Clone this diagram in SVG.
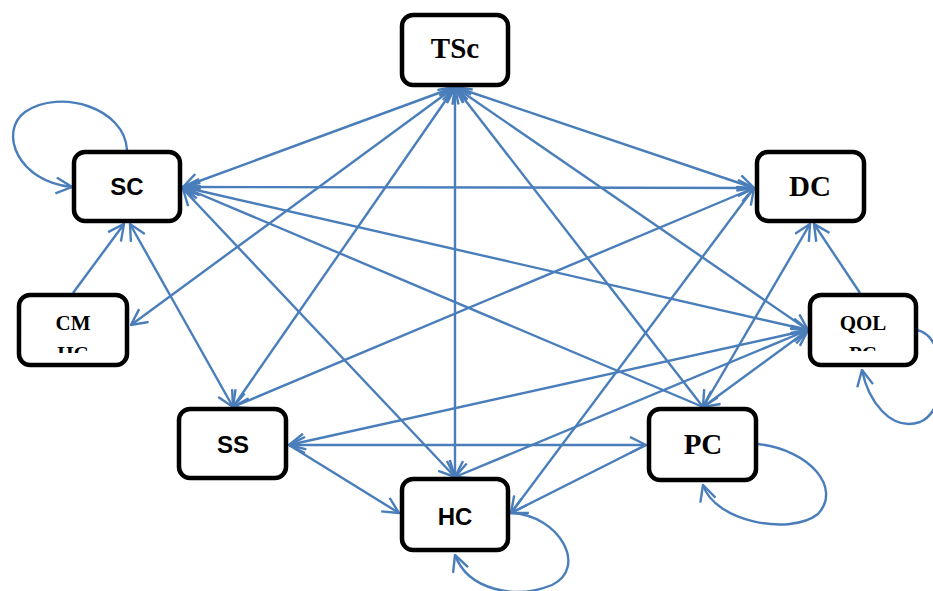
<svg xmlns="http://www.w3.org/2000/svg" width="933" height="591" viewBox="0 0 933 591">
<style>
.n rect{fill:#fff;stroke:#000;stroke-width:4.5}
.e line,.e path{stroke:#4A7EBB;stroke-width:2.4;fill:none}
.b{marker-start:url(#a);marker-end:url(#a)}
.f{marker-end:url(#a)}
.sr{font-family:"Liberation Serif","Times New Roman",serif;font-weight:bold;text-anchor:middle;fill:#000}
.ss{font-family:"Liberation Sans",Arial,sans-serif;font-weight:bold;text-anchor:middle;fill:#000}
</style>
<defs>
<marker id="a" viewBox="0 0 18 18" refX="17" refY="9" markerWidth="18" markerHeight="18" markerUnits="userSpaceOnUse" orient="auto-start-reverse">
<path d="M1,1 L17,9 L1,17" fill="none" stroke="#4A7EBB" stroke-width="2.4"/>
</marker>
<clipPath id="cm"><rect x="19" y="295" width="108" height="58"/></clipPath>
<clipPath id="qo"><rect x="810" y="295" width="106" height="56"/></clipPath>
</defs>
<rect width="933" height="591" fill="#fff"/>
<g id="edges" class="e">
<line class="b" x1="455" y1="87" x2="183" y2="187"/>
<line class="b" x1="455" y1="87" x2="131" y2="325"/>
<line class="b" x1="455" y1="87" x2="233" y2="407"/>
<line class="b" x1="455" y1="87" x2="455" y2="477"/>
<line class="b" x1="455" y1="87" x2="754" y2="188"/>
<line class="b" x1="455" y1="87" x2="808" y2="330"/>
<line class="f" x1="703" y1="407" x2="455" y2="87"/>
<line class="b" x1="183" y1="187" x2="754" y2="188"/>
<line class="b" x1="183" y1="187" x2="808" y2="330"/>
<line class="f" x1="703" y1="407" x2="183" y2="187"/>
<line class="b" x1="183" y1="189" x2="455" y2="477"/>
<line class="b" x1="130" y1="224" x2="233" y2="407"/>
<line class="f" x1="73" y1="293" x2="124" y2="224"/>
<line class="b" x1="233" y1="407" x2="754" y2="188"/>
<line class="b" x1="289" y1="445" x2="646" y2="445"/>
<line class="f" x1="289" y1="445" x2="399" y2="513"/>
<line class="b" x1="808" y1="330" x2="289" y2="445"/>
<line class="b" x1="754" y1="188" x2="511" y2="513"/>
<line class="b" x1="808" y1="330" x2="455" y2="477"/>
<line class="f" x1="646" y1="445" x2="511" y2="513"/>
<line class="b" x1="810" y1="224" x2="703" y2="407"/>
<line class="b" x1="808" y1="330" x2="703" y2="407"/>
<line class="f" x1="860" y1="293" x2="814" y2="224"/>
<path class="f" d="M127,150 C125,108 60,88 25,112 C-2,132 18,182 72,187"/>
<path class="f" d="M511,513 C560,515 588,568 552,585 C515,600 468,590 455,555"/>
<path class="f" d="M758,444 C810,450 842,488 818,514 C790,536 715,522 703,485"/>
<path class="f" d="M917,330 C948,336 950,410 920,422 C890,432 868,400 862,370"/>
</g>
<g id="TSc" class="n"><rect x="402" y="15" width="106" height="70" rx="11"/><text class="sr" x="455" y="58" font-size="29">TSc</text></g>
<g id="SC" class="n"><rect x="74" y="152" width="106" height="69" rx="11"/><text class="ss" x="127" y="195" font-size="24">SC</text></g>
<g id="CMHC" class="n"><rect x="19" y="295" width="108" height="70" rx="11"/><g clip-path="url(#cm)"><text class="sr" x="73" y="330" font-size="21">CM</text><text class="sr" x="73" y="361" font-size="21">HC</text></g></g>
<g id="QOLPC" class="n"><rect x="810" y="295" width="106" height="70" rx="11"/><g clip-path="url(#qo)"><text class="sr" x="863" y="330" font-size="21">QOL</text><text class="sr" x="863" y="361" font-size="21">PC</text></g></g>
<g id="DC" class="n"><rect x="757" y="152" width="107" height="69" rx="11"/><text class="sr" x="810" y="196" font-size="29">DC</text></g>
<g id="SS" class="n"><rect x="179" y="409" width="107" height="69" rx="11"/><text class="ss" x="233" y="453" font-size="24">SS</text></g>
<g id="HC" class="n"><rect x="402" y="479" width="106" height="71" rx="11"/><text class="ss" x="455" y="525" font-size="24">HC</text></g>
<g id="PC" class="n"><rect x="649" y="409" width="107" height="71" rx="11"/><text class="sr" x="703" y="454" font-size="29">PC</text></g>
</svg>
